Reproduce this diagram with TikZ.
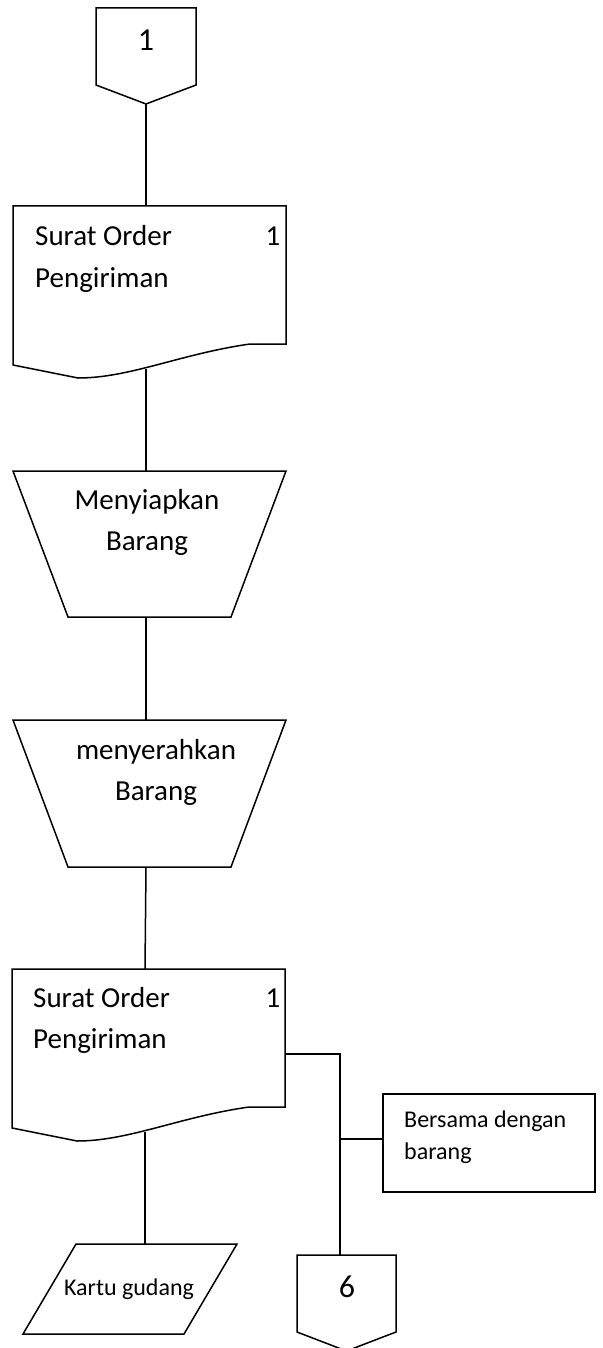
\documentclass[tikz,border=0pt]{standalone}
\usepackage{fontspec}
\setmainfont{Carlito}
\begin{document}
\begin{tikzpicture}[x=1pt,y=-1pt,
  shp/.style={draw=black, line width=1.5pt, line join=miter},
  conn/.style={draw=black, line width=1.5pt},
  txt/.style={inner sep=0pt, anchor=base west},
  ctxt/.style={inner sep=0pt, anchor=base},
  big/.style={font=\fontsize{29}{41}\selectfont},
  small/.style={font=\fontsize{24}{32}\selectfont},
  num/.style={font=\fontsize{32}{38}\selectfont}]
\useasboundingbox (0,0) rectangle (602,1348);

% off-page connector 1
\draw[shp] (96,8) -- (196,8) -- (196,85) -- (146,104) -- (96,85) -- cycle;
\node[ctxt, num] (off1) at (146,51) {1};
\coordinate (off1-s) at (146,104);

% document 1
\draw[shp] (13,206) -- (286,206) -- (286,344) -- (250,344) .. controls (180,354) and (130,378) .. (78,378) -- (13,365) -- cycle;
\coordinate (doc1-n) at (146,206);
\coordinate (doc1-s) at (146,369);
\node[txt, big] (doc1) at (35,246) {\begin{tabular}[t]{@{}l@{}}Surat Order\\Pengiriman\end{tabular}};
\node[ctxt, big] (doc1num) at (273,246) {1};

% manual operation 1
\draw[shp] (13,471) -- (286,471) -- (231,617) -- (68,617) -- cycle;
\coordinate (op1-n) at (146,471);
\coordinate (op1-s) at (146,617);
\node[ctxt, big] (op1) at (147,509) {\begin{tabular}[t]{@{}c@{}}Menyiapkan\\Barang\end{tabular}};

% manual operation 2
\draw[shp] (13,720) -- (286,720) -- (231,867) -- (68,867) -- cycle;
\coordinate (op2-n) at (146,720);
\coordinate (op2-s) at (146,867);
\node[ctxt, big] (op2) at (156,759) {\begin{tabular}[t]{@{}c@{}}menyerahkan\\Barang\end{tabular}};

% document 2
\draw[shp] (12,969) -- (285,969) -- (285,1107) -- (249,1107) .. controls (179,1117) and (129,1141) .. (77,1141) -- (12,1128) -- cycle;
\coordinate (doc2-n) at (145,969);
\coordinate (doc2-s) at (145,1132);
\coordinate (doc2-e) at (285,1054);
\node[txt, big] (doc2) at (33,1007) {\begin{tabular}[t]{@{}l@{}}Surat Order\\Pengiriman\end{tabular}};
\node[ctxt, big] (doc2num) at (273,1007) {1};

% annotation box
\draw[shp] (383,1094) rectangle (595,1192);
\coordinate (box-w) at (383,1139);
\node[txt, small] (box) at (404,1127) {\begin{tabular}[t]{@{}l@{}}Bersama dengan\\barang\end{tabular}};

% parallelogram (Kartu gudang)
\draw[shp] (76,1244) -- (237,1244) -- (184,1334) -- (23,1334) -- cycle;
\coordinate (kg-n) at (145,1244);
\node[ctxt, small] (kg) at (129,1295) {Kartu gudang};

% off-page connector 6
\draw[shp] (297,1255) -- (396,1255) -- (396,1332) -- (346.5,1351) -- (297,1332) -- cycle;
\coordinate (off6-n) at (340,1255);
\node[ctxt, num] (off6) at (347,1297) {6};

% connectors
\draw[conn] (off1-s) -- (doc1-n);
\draw[conn] (doc1-s) -- (op1-n);
\draw[conn] (op1-s) -- (op2-n);
\draw[conn] (op2-s) -- (doc2-n);
\draw[conn] (doc2-s) -- (kg-n);
\coordinate (jt) at (340,1054);
\coordinate (jb) at (340,1139);
\draw[conn] (doc2-e) -- (jt) -- (off6-n);
\draw[conn] (jb) -- (box-w);
\end{tikzpicture}
\end{document}
